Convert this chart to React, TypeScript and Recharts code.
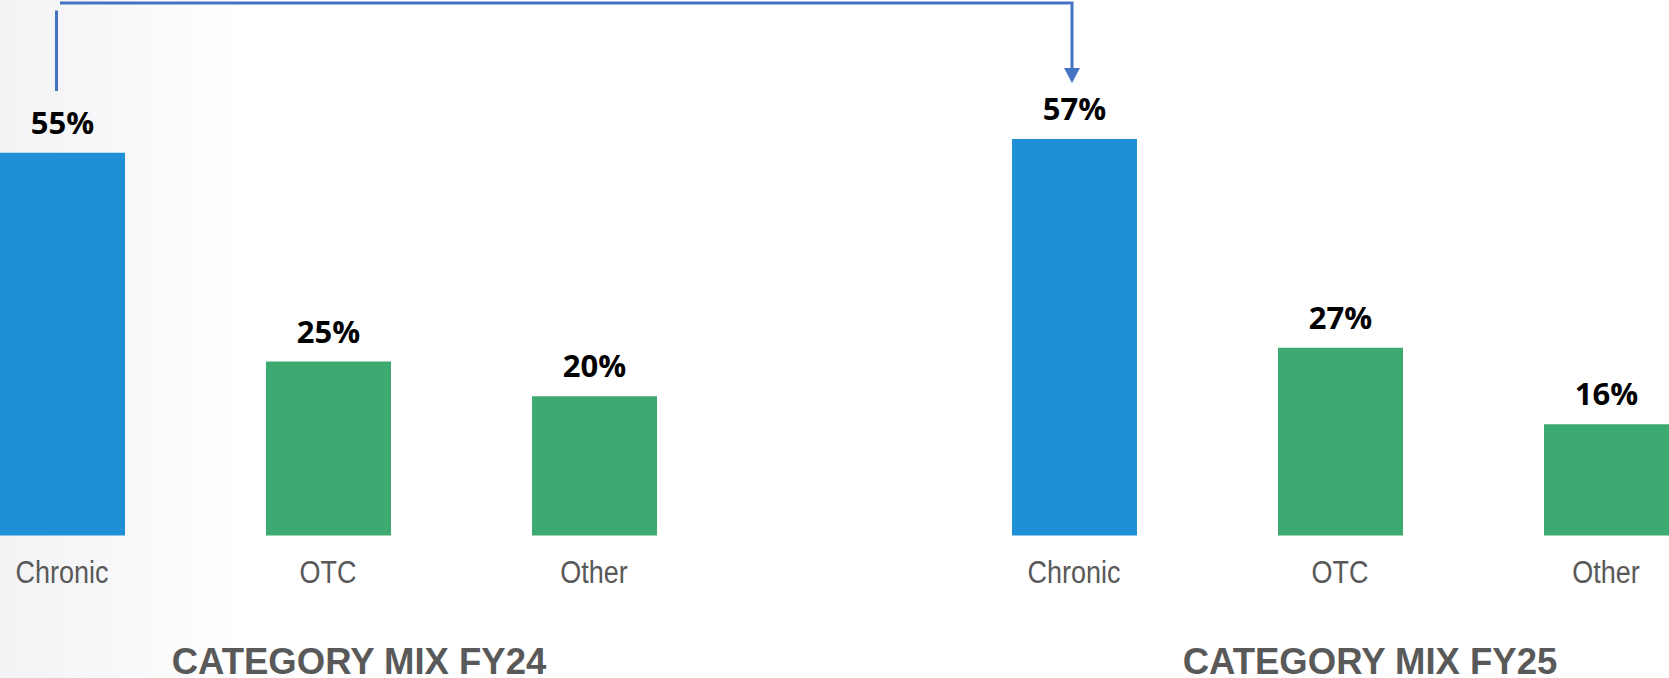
import React from 'react';
import { BarChart, Bar, XAxis, YAxis, Cell, LabelList } from 'recharts';

const categories = ['Chronic', 'OTC', 'Other'];
const fy24Values = [55, 25, 20];
const fy25Values = [57, 27, 16];
const barColors = ['#1F90D6', '#3DAA72', '#3DAA72'];
const panelTitles = ['CATEGORY MIX FY24', 'CATEGORY MIX FY25'];

const W = 1669;
const H = 678;
const PANEL_W = 798;
const PLOT_TOP = 118;
const PLOT_BOTTOM = 535.5;
const AXIS_H = 60;

const buildRows = (values: number[]) =>
  categories.map((name, i) => ({ name, value: values[i], color: barColors[i] }));

const fy24 = buildRows(fy24Values);
const fy25 = buildRows(fy25Values);

// narrow sans look of the source: squeeze text horizontally
const CategoryTick = (props: any) => {
  const { x, y, payload } = props;
  return (
    <text
      transform={`translate(${x},${y + 47.2}) scale(0.87,1)`}
      textAnchor="middle"
      fill="#595959"
      fontFamily="'Liberation Sans', Arial, sans-serif"
      fontSize={31}
    >
      {payload.value}
    </text>
  );
};

const Panel: React.FC<{ data: any[]; left: number }> = ({ data, left }) => (
  <div style={{ position: 'absolute', left, top: 0 }}>
    <BarChart
      width={PANEL_W}
      height={H}
      data={data}
      margin={{ top: PLOT_TOP, right: 0, left: 0, bottom: H - PLOT_BOTTOM - AXIS_H }}
    >
      <XAxis
        dataKey="name"
        axisLine={false}
        tickLine={false}
        tickSize={0}
        tickMargin={0}
        height={AXIS_H}
        interval={0}
        tick={<CategoryTick />}
      />
      <YAxis hide domain={[0, 60]} />
      <Bar dataKey="value" barSize={125} isAnimationActive={false}>
        {data.map((d, i) => (
          <Cell key={i} fill={d.color} />
        ))}
        <LabelList
          dataKey="value"
          position="top"
          offset={19}
          formatter={(v: any) => `${v}%`}
          style={{ fontFamily: "'Open Sans', sans-serif", fontWeight: 700, fontSize: 31, fill: '#000' }}
        />
      </Bar>
    </BarChart>
  </div>
);

export default function App() {
  return (
    <>
      <style>{`html, body { margin: 0; padding: 0; }`}</style>
      <div
        style={{
          position: 'relative',
          width: W,
          height: H,
          overflow: 'hidden',
          background: 'linear-gradient(to right, #f3f3f5 0px, #f7f7f9 90px, #ffffff 240px)',
        }}
      >
        <Panel data={fy24} left={-71} />
        <Panel data={fy25} left={940.5} />
        <svg width={W} height={H} style={{ position: 'absolute', left: 0, top: 0, pointerEvents: 'none' }}>
          {/* connector from FY24 chronic to FY25 chronic */}
          <line x1={56.5} y1={10.5} x2={56.5} y2={91} stroke="#4472C4" strokeWidth={3} />
          <polyline points="60,3 1072,3 1072,70" fill="none" stroke="#4472C4" strokeWidth={3} />
          <polygon points="1064,68 1080,68 1072,83" fill="#4472C4" />
          {panelTitles.map((t, i) => (
            <text
              key={t}
              x={i === 0 ? 359 : 1370}
              y={674}
              textAnchor="middle"
              fill="#595959"
              fontFamily="'Liberation Sans', Arial, sans-serif"
              fontWeight={700}
              fontSize={36.5}
            >
              {t}
            </text>
          ))}
        </svg>
      </div>
    </>
  );
}
